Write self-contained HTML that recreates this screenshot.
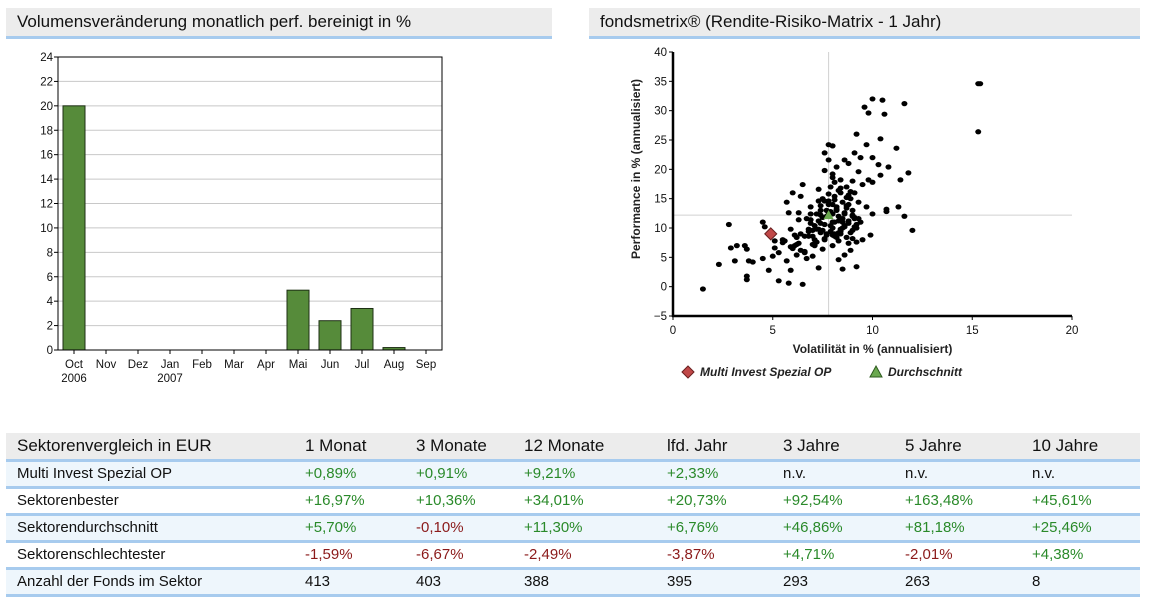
<!DOCTYPE html>
<html><head><meta charset="utf-8">
<style>
body{margin:0;width:1156px;height:616px;background:#fff;font-family:"Liberation Sans",sans-serif;position:relative;overflow:hidden}
.hdr{position:absolute;height:28px;background:#ececec;border-bottom:3px solid #a7cbee;font-size:17px;line-height:28px;padding-left:11px;box-sizing:content-box;color:#111}
table{position:absolute;left:6px;top:433px;width:1134px;border-collapse:collapse;font-size:15px;color:#111}
td,th{padding:0;text-align:left;font-weight:normal}
tr{height:27px}
tr.h{background:#ececec;font-size:17px;height:27px}
tr{border-bottom:3px solid #a7cbee}
tr.b{background:#eef6fc}
.g{color:#2a8a2a}.r{color:#8b1a1a}
</style></head><body>
<div class="hdr" style="left:6px;top:8px;width:535px">Volumensveränderung monatlich perf. bereinigt in %</div>
<div class="hdr" style="left:589px;top:8px;width:540px">fondsmetrix® (Rendite-Risiko-Matrix - 1 Jahr)</div>

<svg id="bar" width="560" height="400" style="position:absolute;left:0;top:0" font-family="Liberation Sans, sans-serif"></svg>
<svg id="sc" width="590" height="400" style="position:absolute;left:566px;top:0" font-family="Liberation Sans, sans-serif"></svg>

<table>
<colgroup><col style="width:299px"><col style="width:111px"><col style="width:108px"><col style="width:143px"><col style="width:116px"><col style="width:122px"><col style="width:127px"><col></colgroup>
<tr class="h"><td style="padding-left:11px">Sektorenvergleich in EUR</td><td>1 Monat</td><td>3 Monate</td><td>12 Monate</td><td>lfd. Jahr</td><td>3 Jahre</td><td>5 Jahre</td><td>10 Jahre</td></tr>
<tr class="b"><td style="padding-left:11px">Multi Invest Spezial OP</td><td class="g">+0,89%</td><td class="g">+0,91%</td><td class="g">+9,21%</td><td class="g">+2,33%</td><td>n.v.</td><td>n.v.</td><td>n.v.</td></tr>
<tr><td style="padding-left:11px">Sektorenbester</td><td class="g">+16,97%</td><td class="g">+10,36%</td><td class="g">+34,01%</td><td class="g">+20,73%</td><td class="g">+92,54%</td><td class="g">+163,48%</td><td class="g">+45,61%</td></tr>
<tr class="b"><td style="padding-left:11px">Sektorendurchschnitt</td><td class="g">+5,70%</td><td class="r">-0,10%</td><td class="g">+11,30%</td><td class="g">+6,76%</td><td class="g">+46,86%</td><td class="g">+81,18%</td><td class="g">+25,46%</td></tr>
<tr><td style="padding-left:11px">Sektorenschlechtester</td><td class="r">-1,59%</td><td class="r">-6,67%</td><td class="r">-2,49%</td><td class="r">-3,87%</td><td class="g">+4,71%</td><td class="r">-2,01%</td><td class="g">+4,38%</td></tr>
<tr class="b"><td style="padding-left:11px">Anzahl der Fonds im Sektor</td><td>413</td><td>403</td><td>388</td><td>395</td><td>293</td><td>263</td><td>8</td></tr>
</table>

<script>
const months=["Oct","Nov","Dez","Jan","Feb","Mar","Apr","Mai","Jun","Jul","Aug","Sep"];
const years=["2006","","","2007","","","","","","","",""];
const volumes=[20,0,0,0,0,0,0,4.9,2.4,3.4,0.2,0];
const yTicks=[0,2,4,6,8,10,12,14,16,18,20,22,24];

const scX=[1.5,2.3,2.8,2.9,3.1,3.2,3.6,3.7,3.7,3.7,3.8,4,4.5,4.5,4.6,4.8,5,5.1,5.1,5.3,5.3,5.5,5.7,5.7,5.8,5.8,5.9,5.9,6,6,6.1,6.2,6.2,6.3,6.3,6.4,6.4,6.5,6.5,6.6,6.7,6.7,6.8,6.9,6.9,7,7,7.1,7.2,7.2,7.3,7.3,7.4,7.4,7.5,7.5,7.6,7.6,7.6,7.7,7.8,7.8,7.8,7.9,7.9,8,8,8,8,8,8.1,8.1,8.2,8.2,8.3,8.3,8.3,8.4,8.4,8.5,8.5,8.6,8.6,8.6,8.7,8.7,8.8,8.8,8.8,8.9,9,9,9,9.1,9.1,9.1,9.2,9.2,9.2,9.3,9.3,9.4,9.4,9.5,9.5,9.6,9.7,9.7,9.8,9.8,9.9,10,10,10,10,10.3,10.4,10.4,10.5,10.6,10.7,10.7,10.8,11.2,11.3,11.4,11.6,11.6,11.8,12,15.3,15.4,15.3,
7.4,7.6,7.8,8.0,8.2,8.4,8.6,8.8,9.0,7.5,7.7,7.9,8.1,8.3,8.5,8.7,8.9,7.3,7.6,8.0,8.2,8.4,8.6,8.9,9.1,7.2,7.8,8.1,8.3,8.5,6.8,7.0,7.4,8.0,8.7,9.2,6.6,6.9,7.1,8.4,8.8,9.0,5.5,5.9,6.3,6.8,7.3,7.7,
5.6,6.1,6.4,6.9,7.1,7.3,7.5,7.7,7.9,8.1,8.3,8.5,8.7,8.9,9.1,9.3,7.4,7.8,8.2,8.6,9.0,6.2,6.6,7.0,8.0,8.4,8.8,9.2,7.6,8.1];
const scY=[-0.4,3.8,10.6,6.6,4.4,7,7,6.4,1.8,1.2,4.4,4.2,4.8,11,10.2,2.8,5.2,6.6,7.8,1,5.8,7.5,4.4,14.4,0.6,12.6,2.8,9.8,16,6.5,8.8,7.2,5.4,12.6,11.4,15.4,6.2,0.4,17.4,5.8,4.8,11.6,9.4,13.6,12.4,5.2,8.6,10.4,7.6,12.4,3.2,16.6,13.8,10.8,6.4,15,22.8,19.8,8.2,12,24.2,21.6,14,17,9.4,24,18.6,12.4,10,7,15.4,8.6,20.4,13.6,16.4,11.2,4.6,18.2,9.8,14.4,3,21.6,12.6,5.4,17,8.4,21,15.6,10.8,6.2,18,13,9.6,22.8,16,11.6,26,7.6,3.4,14.4,19.6,22,11,17.4,8,30.6,24.2,13.6,29.6,18.2,8.8,32,22,17.8,12.4,20.8,25.2,19,31.8,29.4,13.2,12.8,20.4,23.6,13.6,18.2,31.2,12,19.4,9.6,34.6,34.6,26.4,
13,14.6,15.8,11,13.2,16.8,10.4,14,12.2,11.8,9,12.8,14.8,9.2,11.6,13.4,15,14.6,10.6,8.8,13,9.4,10.2,16.2,11.8,9.8,12.6,17.8,7.8,11,9.8,7.2,12.2,19.2,15.2,10.6,8.6,11.4,7,9,11.2,12,8,6.8,7.4,8.6,9.8,8.8,
7.8,7.0,9.0,10.8,8.0,11.2,9.6,13.0,10.4,9.0,12.0,10.0,13.8,9.2,10.2,11.6,9.2,14.6,8.4,12.4,8.2,8.4,6.0,9.6,14.0,16.0,7.4,10.0,8.0,11.0];
const fundX=[4.9], fundY=[9];
const avgX=[7.8], avgY=[12.2];
const xTicksS=[0,5,10,15,20];
const yTicksS=[-5,0,5,10,15,20,25,30,35,40];

const NS="http://www.w3.org/2000/svg";
function mk(p,t,a){const e=document.createElementNS(NS,t);for(const k in a)e.setAttribute(k,a[k]);p.appendChild(e);return e;}

// bar chart
(function(){
const s=document.getElementById('bar');
const L=58,R=442,T=57,B=350;
const y=v=>B-(v/24)*(B-T);
const step=(R-L)/12;
const x=i=>L+step*(i+0.5);
mk(s,'rect',{x:L,y:T,width:R-L,height:B-T,fill:'#fff'});
yTicks.forEach(v=>{
 if(v>0&&v<24){const g=mk(s,'line',{x1:L,x2:R,y1:y(v),y2:y(v),stroke:'#c8c8c8','stroke-width':1});
 }
 mk(s,'line',{x1:L-4,x2:L,y1:y(v),y2:y(v),stroke:'#000'});
 const t=mk(s,'text',{x:L-5,y:y(v)+4,'text-anchor':'end','font-size':11.5,fill:'#111'});t.textContent=v;
 
});
volumes.forEach((v,i)=>{
 if(v>0){const r=mk(s,'rect',{x:x(i)-11,y:y(v),width:22,height:y(0)-y(v),fill:'#568b3a',stroke:'#1d2f14','stroke-width':1});
 }
 mk(s,'line',{x1:x(i),x2:x(i),y1:B,y2:B+4,stroke:'#000'});
 const t=mk(s,'text',{x:x(i),y:B+18,'text-anchor':'middle','font-size':11.5,fill:'#111'});t.textContent=months[i];
 
 if(years[i]){const t2=mk(s,'text',{x:x(i),y:B+32,'text-anchor':'middle','font-size':11.5,fill:'#111'});t2.textContent=years[i];
 }
});
mk(s,'rect',{x:L,y:T,width:R-L,height:B-T,fill:'none',stroke:'#000','stroke-width':1});
})();

// scatter
(function(){
const s=document.getElementById('sc');
const ox=566;
const L=673-ox,R=1072-ox,T=52,B=316;
const x=v=>L+v/20*(R-L);
const y=v=>B-(v+5)/45*(B-T);
mk(s,'line',{x1:x(7.8),x2:x(7.8),y1:T,y2:B,stroke:'#d0d0d0'});
mk(s,'line',{x1:L,x2:R,y1:y(12.2),y2:y(12.2),stroke:'#d0d0d0'});
scX.forEach((v,i)=>{const c=mk(s,'ellipse',{cx:x(v),cy:y(scY[i]),rx:3,ry:2.6,fill:'#000'});
 });
fundX.forEach((v,i)=>{const cx=x(v),cy=y(fundY[i]);const d=mk(s,'polygon',{points:`${cx},${cy-6} ${cx+6},${cy} ${cx},${cy+6} ${cx-6},${cy}`,fill:'#c04848',stroke:'#6a2020'});
 });
avgX.forEach((v,i)=>{const cx=x(v),cy=y(avgY[i]);const d=mk(s,'polygon',{points:`${cx},${cy-5} ${cx+5},${cy+4} ${cx-5},${cy+4}`,fill:'#6aa84f'});
 });
mk(s,'line',{x1:L,x2:L,y1:T,y2:B+1,stroke:'#000','stroke-width':2.5});
mk(s,'line',{x1:L-1,x2:R,y1:B,y2:B,stroke:'#000','stroke-width':2.5});
yTicksS.forEach(v=>{mk(s,'line',{x1:L-4,x2:L,y1:y(v),y2:y(v),stroke:'#000'});
 const t=mk(s,'text',{x:L-6,y:y(v)+4,'text-anchor':'end','font-size':11.5,fill:'#111'});t.textContent=v<0?'\u2212'+(-v):v;
 });
xTicksS.forEach(v=>{mk(s,'line',{x1:x(v),x2:x(v),y1:B,y2:B+4,stroke:'#000'});
 const t=mk(s,'text',{x:x(v),y:B+18,'text-anchor':'middle','font-size':11.5,fill:'#111'});t.textContent=v;
 });
const xt=mk(s,'text',{x:(L+R)/2,y:353,'text-anchor':'middle','font-size':12,'font-weight':'bold',fill:'#222'});xt.textContent='Volatilität in % (annualisiert)';

const yt=mk(s,'text',{x:0,y:0,'text-anchor':'middle','font-size':12,'font-weight':'bold',fill:'#222',transform:`translate(${640-ox},${(T+B)/2-15}) rotate(-90)`});yt.textContent='Performance in % (annualisiert)';

// legend
const lx=688-ox,ly=372;
mk(s,'polygon',{points:`${lx},${ly-6} ${lx+6},${ly} ${lx},${ly+6} ${lx-6},${ly}`,fill:'#c04848',stroke:'#6a2020'});
const l1=mk(s,'text',{x:lx+12,y:ly+4,'font-size':12,'font-weight':'bold','font-style':'italic',fill:'#222'});l1.textContent='Multi Invest Spezial OP';

const tx=876-ox;
mk(s,'polygon',{points:`${tx},${ly-6} ${tx+6},${ly+5} ${tx-6},${ly+5}`,fill:'#6aa84f',stroke:'#2d5a1e'});
const l2=mk(s,'text',{x:tx+12,y:ly+4,'font-size':12,'font-weight':'bold','font-style':'italic',fill:'#222'});l2.textContent='Durchschnitt';

})();
</script>
</body></html>
